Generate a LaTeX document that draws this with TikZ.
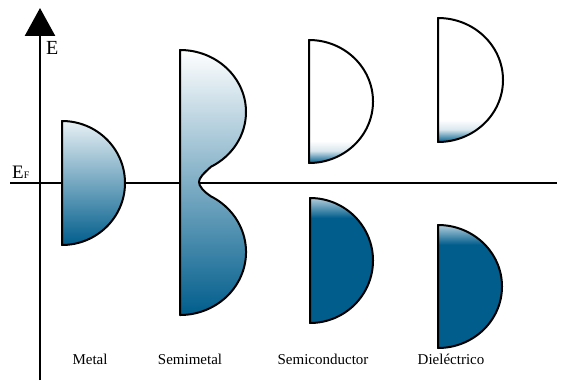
\documentclass[tikz,border=0pt]{standalone}
\usepackage{fontspec}
\setmainfont{Liberation Serif}
\usetikzlibrary{arrows.meta}

\definecolor{bandblue}{RGB}{0,93,140}
% almost empty band (only the bottom is filled) and almost full band
\pgfdeclareverticalshading{emptyband}{100bp}{color(0bp)=(bandblue); color(25bp)=(bandblue); color(30bp)=(bandblue!15!white); color(34bp)=(white); color(100bp)=(white)}
\pgfdeclareverticalshading{fullband}{100bp}{color(0bp)=(bandblue); color(67bp)=(bandblue); color(75bp)=(bandblue!30!white); color(100bp)=(bandblue!30!white)}

\begin{document}
\begin{tikzpicture}[x=1pt,y=1pt,
	axis/.style={line width=2.6pt},
	band/.style={draw=black,line width=2pt,line join=round},
	label/.style={font=\fontsize{15}{15}\selectfont,anchor=base,inner sep=0pt}]
	\useasboundingbox (0,0) rectangle (561,381);
	% axes and Fermi level
	\draw[axis] (10,198) -- (557,198);
	\draw[axis,-{Triangle[length=28pt,width=30pt]}] (40,1) -- (40,373);
	\node[anchor=base west,inner sep=0pt,font=\fontsize{20}{20}\selectfont] (elabel) at (46,326) {E};
	\node[anchor=base west,inner sep=0pt] (eflabel) at (12,203) {\fontsize{19}{19}\selectfont E\fontsize{10}{10}\selectfont F};
	
	% metal
	\shadedraw[band,top color=bandblue!9!white,bottom color=bandblue] (62,136) -- (62,260) arc[start angle=90,end angle=-90,x radius=63,y radius=62] -- cycle;
	% semimetal
	\shadedraw[band,top color=white,bottom color=bandblue] (180,66) -- (180,331) arc[start angle=90,end angle=-62,x radius=66,y radius=62]
		.. controls (203,207) and (199,203) .. (199,199) .. controls (199,195) and (203,190) .. (211,184.6)
		arc[start angle=62,end angle=-90,x radius=66,y radius=63] -- cycle;
	% semiconductor
	\shadedraw[band,shading=emptyband] (309,218) -- (309,341) arc[start angle=90,end angle=-90,x radius=64,y radius=61.5] -- cycle;
	\shadedraw[band,shading=fullband] (310,58) -- (310,183) arc[start angle=90,end angle=-90,x radius=63,y radius=62.5] -- cycle;
	% dielectric
	\shadedraw[band,shading=emptyband] (438,239) -- (438,363) arc[start angle=90,end angle=-90,x radius=65,y radius=62] -- cycle;
	\shadedraw[band,shading=fullband] (438,33) -- (438,156) arc[start angle=90,end angle=-90,x radius=64,y radius=61.5] -- cycle;
	
	\node[label] (metal) at (90,17) {Metal};
	\node[label] (semimetal) at (190,17) {Semimetal};
	\node[label] (semicond) at (323,17) {Semiconductor};
	\node[label] (dielec) at (451,17) {Dieléctrico};
\end{tikzpicture}
\end{document}
